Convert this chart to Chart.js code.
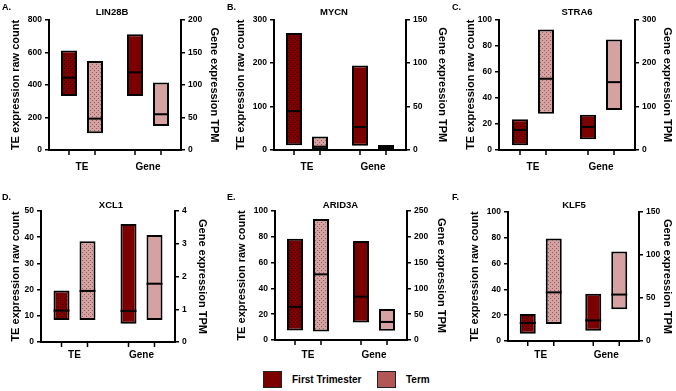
<!DOCTYPE html>
<html>
<head>
<meta charset="utf-8">
<script src="https://cdn.jsdelivr.net/npm/chart.js@4.4.1/dist/chart.umd.min.js"></script>
<style>
    body { margin: 0; background: #fff; font-family: 'Liberation Sans', Arial, sans-serif; }
    #fig { position: relative; width: 676px; height: 391px; overflow: hidden; background: #fff; }
    #fig canvas { position: absolute; }
    .txt { position: absolute; font-weight: bold; color: #000; white-space: nowrap; line-height: 1; }
    .sq  { position: absolute; width: 19px; height: 17px; box-sizing: border-box; border: 1px solid #222; }
</style>
</head>
<body>
<div id="fig"></div>
<script>
// ── Datos ────────────────────────────────────────────────────────────────
const genes      = ['LIN28B', 'MYCN', 'STRA6', 'XCL1', 'ARID3A', 'KLF5'];
const tags       = ['A.', 'B.', 'C.', 'D.', 'E.', 'F.'];
const groups     = ['TE', 'Gene'];
const seriesNames = ['First Trimester', 'Term'];

// eje izquierdo (TE raw count) y derecho (Gene TPM)
const teMax    = [800, 300, 100, 50, 100, 100];
const teStep   = [200, 100, 20, 10, 20, 20];
const geneMax  = [200, 150, 300, 4, 250, 150];
const geneStep = [50, 50, 100, 1, 50, 50];

// [min, max, mediana]
const teFirst   = [[332, 613, 445], [10.7, 269, 89.5], [3.6, 23.5, 15.3], [8.4, 19.7, 12.0], [7.3, 78.4, 25.7], [5.7, 21, 14]];
const teTerm    = [[103, 548, 193], [1.5, 31, 7.6], [27.8, 92.3, 54.6], [8.4, 38.5, 19.5], [6.5, 93.8, 50.9], [13.2, 79.5, 37.7]];
const geneFirst = [[83, 178, 119.5], [5, 97, 26.4], [25, 81, 53], [0.56, 3.6, 0.95], [34, 192, 84], [12, 55, 24]];
const geneTerm  = [[37, 104, 55], [1, 5.7, 3], [92, 254, 156], [0.67, 3.27, 1.78], [18, 60, 35], [37, 104, 54]];

// ── Layout de cada panel (px) ────────────────────────────────────────────
const panels = [
    { x: 0,   y: 0,   w: 225, h: 185, l: 49, r: 181, t: 20,   b: 150, lt: 16,   rt: 214,   catY: 167.5, tx: 112,   ty: 12 },
    { x: 225, y: 0,   w: 225, h: 185, l: 49, r: 181, t: 19.5, b: 150, lt: 15.7, rt: 217,   catY: 167.5, tx: 109,   ty: 12 },
    { x: 450, y: 0,   w: 226, h: 185, l: 49, r: 185, t: 19.5, b: 150, lt: 20.8, rt: 217,   catY: 167,   tx: 127,   ty: 12 },
    { x: 0,   y: 190, w: 225, h: 178, l: 41, r: 175, t: 21,   b: 152, lt: 15.5, rt: 202.5, catY: 165,   tx: 111,   ty: 15 },
    { x: 225, y: 190, w: 225, h: 178, l: 50, r: 182, t: 21,   b: 150, lt: 17,   rt: 216,   catY: 165,   tx: 115.5, ty: 15 },
    { x: 450, y: 190, w: 226, h: 178, l: 58, r: 189, t: 22,   b: 151, lt: 25,   rt: 217,   catY: 165,   tx: 124,   ty: 15 },
];

const C_FIRST = '#7d0000';
const C_TERM  = '#d6a1a1';
const FONT    = "'Liberation Sans', Arial, sans-serif";

const fig = document.getElementById('fig');

// ── Patrón punteado para las barras TE ───────────────────────────────────
function makePattern(base, dot) {
    const c = document.createElement('canvas');
    c.width = 4; c.height = 4;
    const g = c.getContext('2d');
    g.fillStyle = base; g.fillRect(0, 0, 4, 4);
    g.fillStyle = dot;
    g.fillRect(0, 0, 1, 1);
    g.fillRect(2, 2, 1, 1);
    return g.createPattern(c, 'repeat');
}
const patFirst = makePattern(C_FIRST, '#3a0000');
const patTerm  = makePattern(C_TERM, '#8f5a5a');

// ── Medianas + marcas de tick del eje x ──────────────────────────────────
const medianPlugin = {
    id: 'medians',
    afterDatasetsDraw(chart) {
        const { ctx, chartArea } = chart;
        ctx.save();
        ctx.strokeStyle = '#000';
        chart.data.datasets.forEach((ds, i) => {
            const meta  = chart.getDatasetMeta(i);
            const scale = chart.scales[ds.yAxisID];
            meta.data.forEach((bar, j) => {
                if (ds.data[j] == null) return;
                const y = scale.getPixelForValue(ds.medians[j]);
                ctx.lineWidth = 2;
                ctx.beginPath();
                ctx.moveTo(bar.x - bar.width / 2, y);
                ctx.lineTo(bar.x + bar.width / 2, y);
                ctx.stroke();
                ctx.lineWidth = 1.5;
                ctx.beginPath();
                ctx.moveTo(bar.x, chartArea.bottom);
                ctx.lineTo(bar.x, chartArea.bottom + 5);
                ctx.stroke();
            });
        });
        ctx.restore();
    },
};

function addText(text, left, top, size, center) {
    const d = document.createElement('div');
    d.className = 'txt';
    d.textContent = text;
    d.style.left = left + 'px';
    d.style.top = top + 'px';
    d.style.fontSize = size + 'px';
    if (center) d.style.transform = 'translate(-50%, -50%)';
    fig.appendChild(d);
}

function yAxis(pos, max, step, title, width, pad) {
    return {
        position: pos, min: 0, max: max,
        ticks:  { stepSize: step, color: '#000', padding: 3, font: { family: FONT, size: 8.5, weight: 'bold' } },
        grid:   { display: true, drawOnChartArea: false, drawTicks: true, tickLength: 4, color: '#000', lineWidth: 1.5 },
        border: { display: true, color: '#000', width: 2 },
        title:  { display: true, text: title, color: '#000', padding: { top: pad, bottom: 0 },
                  font: { family: FONT, size: 11, weight: 'bold', lineHeight: 1.2 } },
        afterFit: s => { s.width = width; },
    };
}

// ── Construir los 6 paneles ──────────────────────────────────────────────
genes.forEach((gene, i) => {
    const p = panels[i];
    const cv = document.createElement('canvas');
    cv.width = p.w; cv.height = p.h;
    cv.style.left = p.x + 'px'; cv.style.top = p.y + 'px';
    fig.appendChild(cv);

    const catPct = 52 / ((p.r - p.l) / 2);
    const barPct = 16 / 26;

    const mk = (label, rng, idx, axis, bg) => ({
        label,
        data:    idx === 0 ? [[rng[0], rng[1]], null] : [null, [rng[0], rng[1]]],
        medians: idx === 0 ? [rng[2], null] : [null, rng[2]],
        yAxisID: axis,
        backgroundColor: bg,
        borderColor: '#000', borderWidth: 2, borderSkipped: false,
        skipNull: true,
        categoryPercentage: catPct, barPercentage: barPct,
    });

    new Chart(cv.getContext('2d'), {
        type: 'bar',
        data: {
            labels: groups,
            datasets: [
                mk(seriesNames[0], teFirst[i],   0, 'yTE',   patFirst),
                mk(seriesNames[1], teTerm[i],    0, 'yTE',   patTerm),
                mk(seriesNames[0], geneFirst[i], 1, 'yGene', C_FIRST),
                mk(seriesNames[1], geneTerm[i],  1, 'yGene', C_TERM),
            ],
        },
        options: {
            responsive: false, animation: false,
            layout: { padding: { top: p.t, left: 0, right: 0, bottom: 0 } },
            plugins: { legend: { display: false }, tooltip: { enabled: false } },
            scales: {
                x: {
                    grid:   { display: false, drawTicks: false },
                    border: { display: true, color: '#000', width: 2 },
                    ticks:  { color: '#000', padding: p.catY - p.b - 6, font: { family: FONT, size: 10, weight: 'bold' } },
                    afterFit: s => { s.height = p.h - p.b; },
                },
                yTE:   yAxis('left',  teMax[i],   teStep[i],   'TE expression raw count', p.l, p.lt - 6.6),
                yGene: yAxis('right', geneMax[i], geneStep[i], 'Gene expression TPM', p.w - p.r, p.w - 6.6 - p.rt),
            },
        },
        plugins: [medianPlugin],
    });

    addText(gene, p.x + p.tx, p.y + p.ty, 9.5, true);
    addText(tags[i], p.x + 2, p.y + 3, 9, false);
});

// ── Leyenda ──────────────────────────────────────────────────────────────
const legendColors = [C_FIRST, '#b35656'];
const legendX      = [263, 377];
seriesNames.forEach((name, k) => {
    const sq = document.createElement('div');
    sq.className = 'sq';
    sq.style.left = legendX[k] + 'px';
    sq.style.top = '371px';
    sq.style.background = legendColors[k];
    fig.appendChild(sq);
    addText(name, legendX[k] + 29, 375, 10, false);
});
</script>
</body>
</html>
